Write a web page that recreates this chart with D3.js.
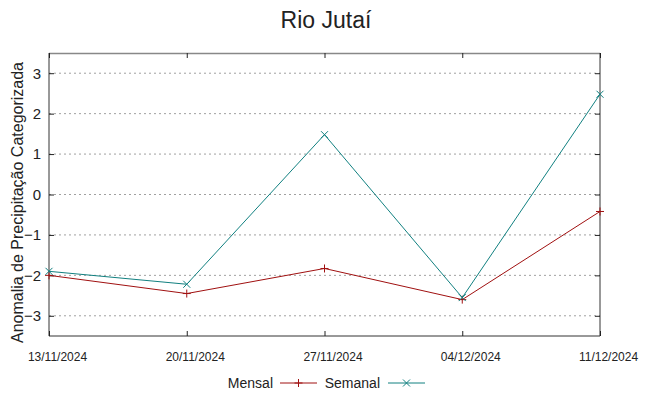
<!DOCTYPE html>
<html>
<head>
<meta charset="utf-8">
<script src="https://cdn.jsdelivr.net/npm/d3@7"></script>
<style>
  body { margin: 0; background: #fff; }
  text { font-family: "Liberation Sans", Arial, sans-serif; fill: #222; }
</style>
</head>
<body>
<div id="chart"></div>
<script>
// data
var dates = ["13/11/2024", "20/11/2024", "27/11/2024", "04/12/2024", "11/12/2024"];
var mensal = [-2.0, -2.45, -1.83, -2.6, -0.42];
var semanal = [-1.9, -2.22, 1.48, -2.55, 2.48];
var yTicks = [-3, -2, -1, 0, 1, 2, 3];

var W = 649, H = 396;
var margin = {top: 53, right: 49, bottom: 60, left: 49},
    width = W - margin.left - margin.right,
    height = H - margin.top - margin.bottom;

var svg = d3.select("#chart").append("svg")
    .attr("width", W).attr("height", H);

var g = svg.append("g")
    .attr("transform", "translate(" + margin.left + "," + margin.top + ")");

var x = d3.scalePoint().domain(dates).range([0, width]);
var y = d3.scaleLinear().domain([-3.5, 3.5]).range([height, 0]);

// grid
g.append("g").selectAll("line").data(yTicks).enter().append("line")
    .attr("x1", 0).attr("x2", width)
    .attr("y1", d => y(d)).attr("y2", d => y(d))
    .attr("stroke", "#a0a0a0").attr("stroke-width", 1)
    .attr("stroke-dasharray", "2,3");

// frame
g.append("line").attr("x1", 0).attr("x2", width).attr("y1", 0.5).attr("y2", 0.5)
    .attr("stroke", "#888").attr("stroke-width", 1.5);
g.append("line").attr("x1", 0).attr("x2", width).attr("y1", height).attr("y2", height)
    .attr("stroke", "#333");
g.append("line").attr("x1", 0).attr("x2", 0).attr("y1", 0).attr("y2", height)
    .attr("stroke", "#333");
g.append("line").attr("x1", width).attr("x2", width).attr("y1", 0).attr("y2", height)
    .attr("stroke", "#333");

// axes
var yAxis = g.append("g").call(d3.axisLeft(y).tickValues(yTicks).tickFormat(d3.format("d"))
    .tickSizeInner(-5).tickSizeOuter(0).tickPadding(8));
yAxis.select(".domain").remove();
yAxis.selectAll("text").style("font-size", "15px");
yAxis.selectAll("line").attr("stroke", "#222");

var yAxisR = g.append("g").attr("transform", "translate(" + width + ",0)")
    .call(d3.axisRight(y).tickValues(yTicks).tickSizeInner(-5).tickSizeOuter(0).tickFormat(""));
yAxisR.select(".domain").remove();
yAxisR.selectAll("line").attr("stroke", "#222");

var xAxis = g.append("g").attr("transform", "translate(0," + height + ")")
    .call(d3.axisBottom(x).tickSizeInner(-5).tickSizeOuter(0).tickPadding(16));
xAxis.select(".domain").remove();
xAxis.selectAll("text").style("font-size", "12px").attr("dx", 8);
xAxis.selectAll("line").attr("stroke", "#222");

var xAxisT = g.append("g")
    .call(d3.axisTop(x).tickSizeInner(-5).tickSizeOuter(0).tickFormat(""));
xAxisT.select(".domain").remove();
xAxisT.selectAll("line").attr("stroke", "#222");

// series
var series = [
  {name: "Mensal", values: mensal, color: "#a01010", mark: "plus"},
  {name: "Semanal", values: semanal, color: "#118080", mark: "cross"}
];

var line = d3.line().x((d, i) => x(dates[i])).y(d => y(d));

function marker(sel, type, color) {
  var p = type === "plus" ? "M-4,0H4M0,-4V4" : "M-3.5,-3.5L3.5,3.5M-3.5,3.5L3.5,-3.5";
  sel.append("path").attr("d", p).attr("stroke", color).attr("fill", "none").attr("stroke-width", 1);
}

series.forEach(function(s) {
  g.append("path").datum(s.values)
    .attr("d", line).attr("fill", "none")
    .attr("stroke", s.color).attr("stroke-width", 1);
  s.values.forEach(function(v, i) {
    var m = g.append("g").attr("transform", "translate(" + x(dates[i]) + "," + y(v) + ")");
    marker(m, s.mark, s.color);
  });
});

// title
svg.append("text").attr("x", 326).attr("y", 28).attr("text-anchor", "middle")
    .style("font-size", "23px").text("Rio Jutaí");

// y label
svg.append("text")
    .attr("transform", "translate(23," + (margin.top + height / 2 + 8) + ") rotate(-90)")
    .attr("text-anchor", "middle").style("font-size", "16px")
    .text("Anomalia de Precipitação Categorizada");

// legend
var legendItems = [
  {name: "Mensal", tx: 273, lx: 280, color: "#a01010", mark: "plus"},
  {name: "Semanal", tx: 380, lx: 388, color: "#118080", mark: "cross"}
];
var lg = svg.append("g");
legendItems.forEach(function(it) {
  lg.append("text").attr("x", it.tx).attr("y", 388).attr("text-anchor", "end")
    .style("font-size", "14px").text(it.name);
  lg.append("line").attr("x1", it.lx).attr("x2", it.lx + 37).attr("y1", 383).attr("y2", 383)
    .attr("stroke", it.color);
  var m = lg.append("g").attr("transform", "translate(" + (it.lx + 18.5) + ",383)");
  marker(m, it.mark, it.color);
});
</script>
</body>
</html>
